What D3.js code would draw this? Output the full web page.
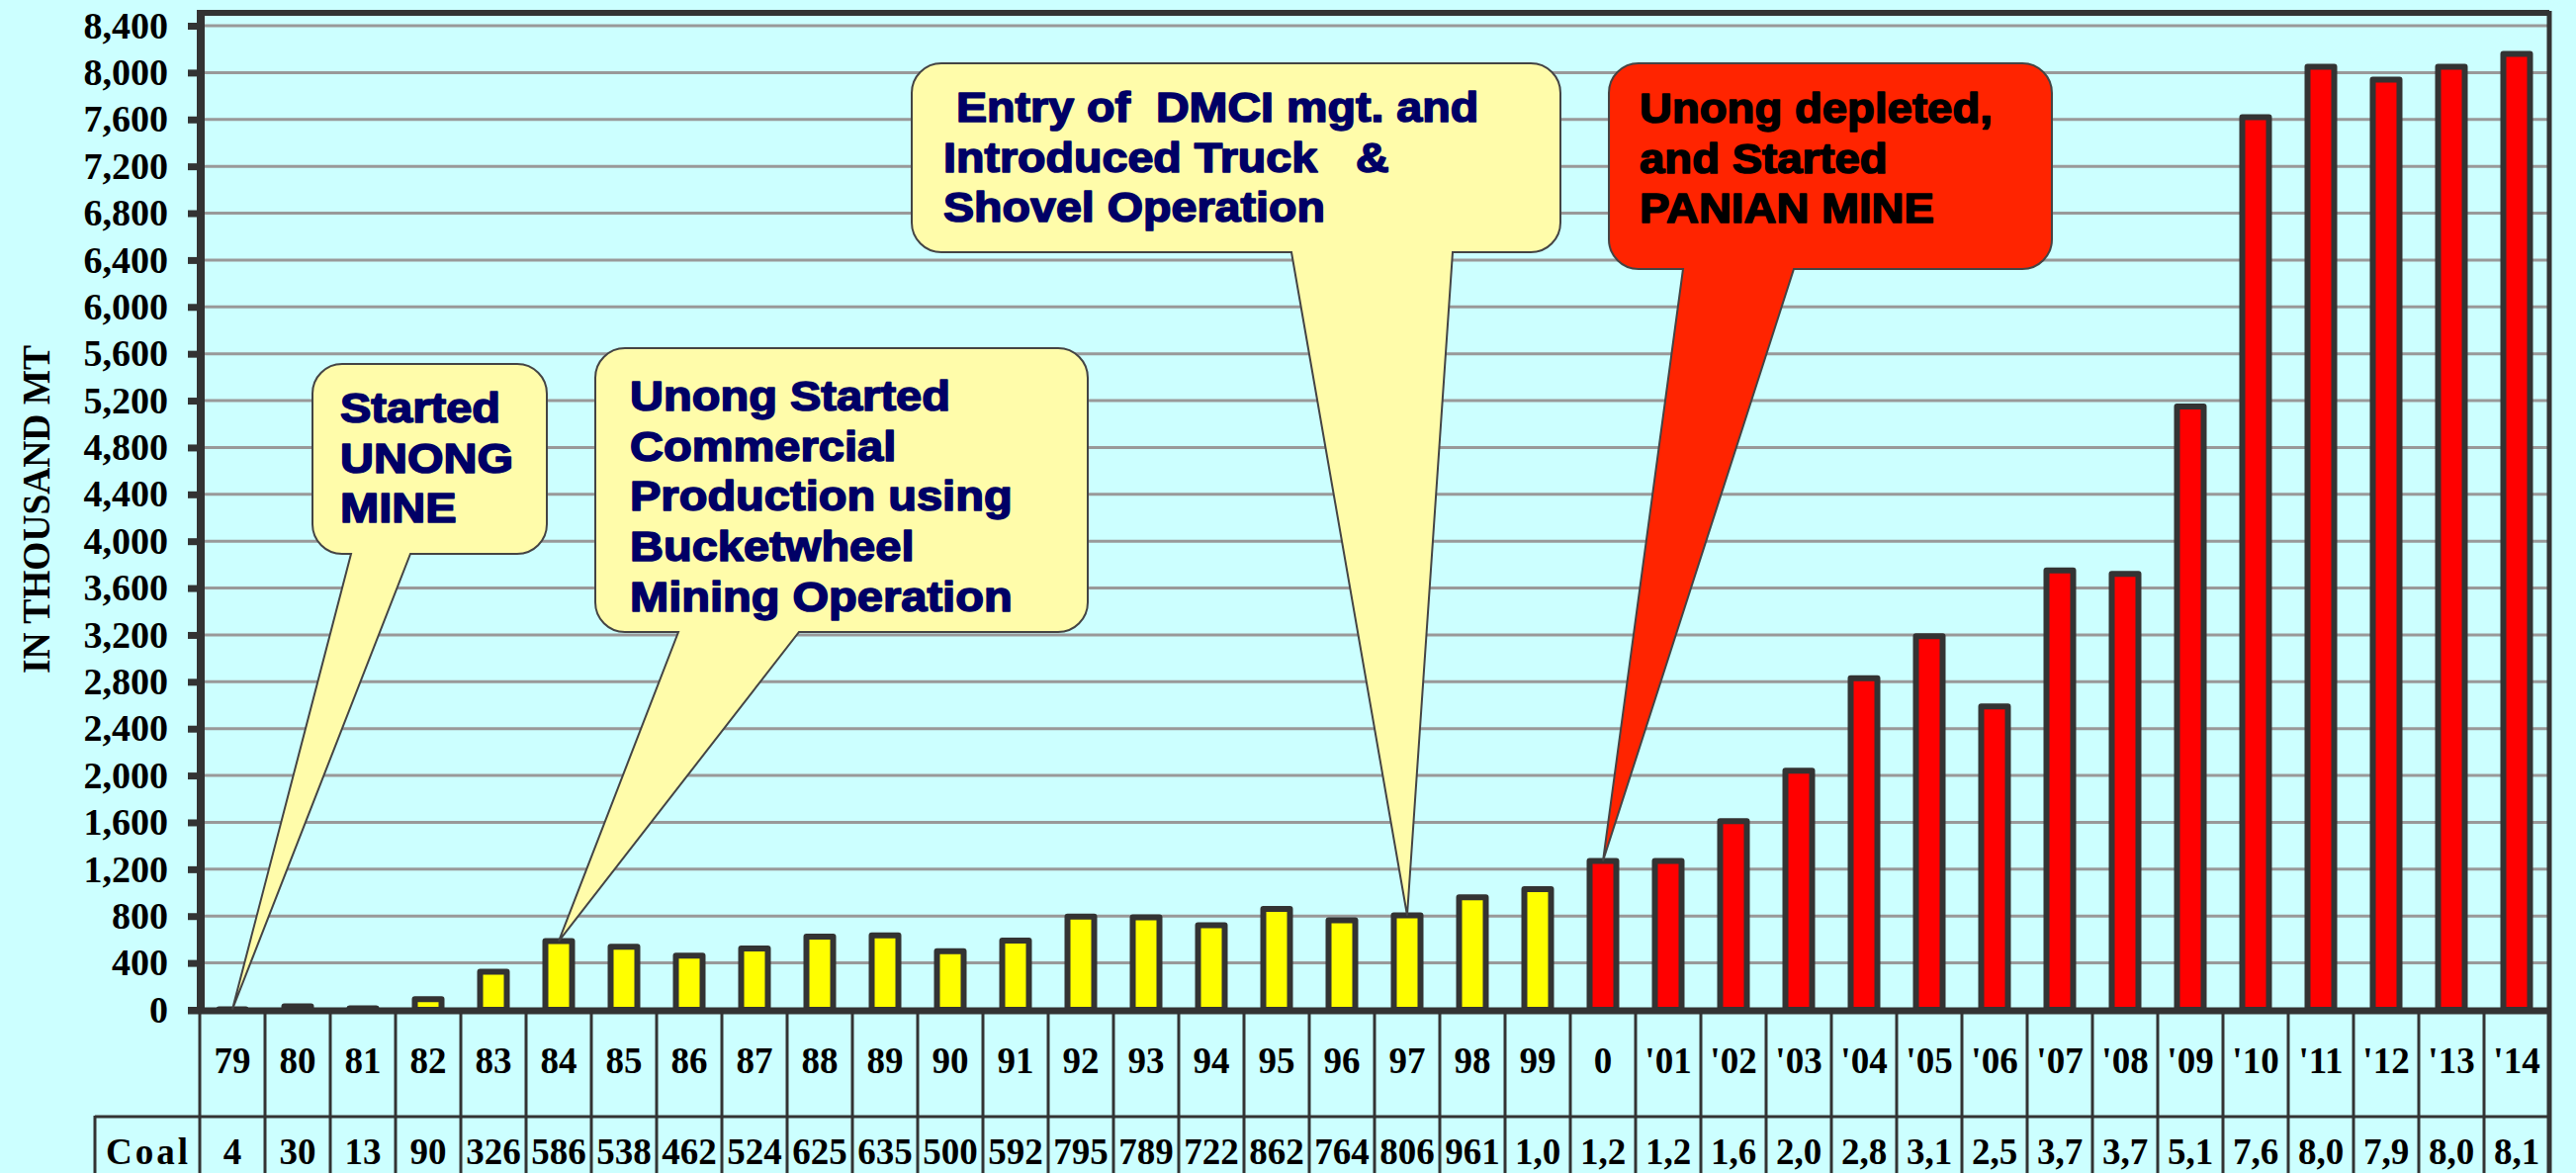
<!DOCTYPE html>
<html>
<head>
  <meta charset="utf-8">
  <style>
    body { margin: 0; background: #CCFFFF; }
    svg { display: block; background-color: #CCFFFF; }
  </style>
</head>
<body>
  <div id="chart"></div>
  <script src="https://d3js.org/d3.v7.min.js"></script>
  <script>

    // years shown in the data table under the chart
    var years = ["79", "80", "81", "82", "83", "84", "85", "86", "87", "88", "89", "90",
                 "91", "92", "93", "94", "95", "96", "97", "98", "99", "0",
                 "'01", "'02", "'03", "'04", "'05", "'06", "'07", "'08", "'09", "'10",
                 "'11", "'12", "'13", "'14"];

    // coal production, thousand MT (values above 999)
    var coal = [4, 30, 13, 90, 326, 586, 538, 462, 524, 625, 635, 500,
                592, 795, 789, 722, 862, 764, 806, 961, 1030, 1270,
                1270, 1610, 2040, 2830, 3190, 2590, 3750, 3720, 5150, 7620,
                8050, 7940, 8050, 8160];

    var yTicks = d3.range(0, 8401, 400);
    var panianFrom = 21;   // first year of Panian mine (red bars)

    // callouts: text lines + which bar the tail points to
    var noteText = [
      ["Started", "UNONG", "MINE"],
      ["Unong Started", "Commercial", "Production using", "Bucketwheel", "Mining Operation"],
      [" Entry of  DMCI mgt. and", "Introduced Truck   &", "Shovel Operation"],
      ["Unong depleted,", "and Started", "PANIAN MINE"]
    ];
    var noteBar = [0, 5, 18, 21];

    var W = 2605, H = 1186;
    var svg = d3.select("#chart").append("svg")
        .attr("width", W)
        .attr("height", H);

    var x = d3.scaleBand().domain(years).range([202, 2578]).padding(0);
    var y = d3.scaleLinear().domain([0, 8400]).range([1021, 26]);
    var barW = 27;
    var serif = "'Liberation Serif', 'Times New Roman', serif";
    var sans = "'Liberation Sans', Arial, sans-serif";

    // grid lines
    svg.append("g")
        .selectAll("line")
        .data(yTicks.filter(d => d > 0))
        .enter().append("line")
        .attr("x1", 207).attr("x2", 2576)
        .attr("y1", d => y(d)).attr("y2", d => y(d))
        .attr("stroke", "#999999")
        .attr("stroke-width", 3);

    // bars
    svg.append("g")
        .selectAll("rect")
        .data(coal)
        .enter().append("rect")
        .attr("x", (d, i) => x(years[i]) + (x.bandwidth() - barW) / 2)
        .attr("y", d => y(d))
        .attr("width", barW)
        .attr("height", d => y(0) - y(d))
        .attr("fill", (d, i) => i >= panianFrom ? "#FF0000" : "#FFFF00")
        .attr("stroke", "#333333")
        .attr("stroke-width", 6)
        .attr("stroke-linejoin", "round");

    // y axis
    var yAxis = d3.axisLeft(y)
        .tickValues(yTicks)
        .tickFormat(d3.format(","))
        .tickSize(13)
        .tickPadding(20);

    var ax = svg.append("g")
        .attr("transform", "translate(203,0)")
        .call(yAxis);
    ax.select(".domain").remove();
    ax.selectAll(".tick line").attr("stroke", "#333333").attr("stroke-width", 7);
    ax.selectAll(".tick text")
        .attr("fill", "#000")
        .style("font-family", serif)
        .style("font-weight", "bold")
        .style("font-size", "38px");

    svg.append("text")
        .attr("transform", "translate(50,515) rotate(-90)")
        .attr("text-anchor", "middle")
        .attr("textLength", 332)
        .attr("lengthAdjust", "spacingAndGlyphs")
        .style("font-family", serif)
        .style("font-weight", "bold")
        .style("font-size", "40px")
        .text("IN THOUSAND MT");

    // frame
    var frame = svg.append("g").attr("stroke", "#333333").attr("fill", "none");
    frame.append("line").attr("x1", 203).attr("x2", 2578).attr("y1", 13).attr("y2", 13).attr("stroke-width", 6);
    frame.append("line").attr("x1", 2578).attr("x2", 2578).attr("y1", 11).attr("y2", H).attr("stroke-width", 5);

    // data table
    var tbl = svg.append("g").attr("stroke", "#333333").attr("stroke-width", 3);
    tbl.selectAll("line.col")
        .data(d3.range(years.length))
        .enter().append("line")
        .attr("class", "col")
        .attr("x1", i => x(years[i])).attr("x2", i => x(years[i]))
        .attr("y1", 1022).attr("y2", H);
    tbl.append("line").attr("x1", 96).attr("x2", 2578).attr("y1", 1129).attr("y2", 1129);
    tbl.append("line").attr("x1", 96).attr("x2", 96).attr("y1", 1128).attr("y2", H);

    frame.append("line").attr("x1", 203).attr("x2", 203).attr("y1", 10).attr("y2", 1025).attr("stroke-width", 8);
    frame.append("line").attr("x1", 190).attr("x2", 2580).attr("y1", 1022).attr("y2", 1022).attr("stroke-width", 7);

    var tText = svg.append("g")
        .style("font-family", serif)
        .style("font-weight", "bold")
        .style("font-size", "37px")
        .attr("text-anchor", "middle");

    tText.selectAll("text.yr")
        .data(years)
        .enter().append("text")
        .attr("class", "yr")
        .attr("x", d => x(d) + x.bandwidth() / 2)
        .attr("y", 1085)
        .text(d => d);

    // table cells are too narrow for 4-digit values, only the first 3 chars show
    var cellText = d => d < 1000 ? String(d) : d3.format(",")(d).slice(0, 3);
    tText.selectAll("text.cv")
        .data(coal)
        .enter().append("text")
        .attr("class", "cv")
        .attr("x", (d, i) => x(years[i]) + x.bandwidth() / 2)
        .attr("y", 1177)
        .text(cellText);

    tText.append("text")
        .attr("x", 107).attr("y", 1177)
        .attr("text-anchor", "start")
        .style("letter-spacing", "3px")
        .text("Coal");

    // callout boxes (box corners + tail base are layout, tip comes from the bar)
    var noteBox = [
      {x0: 316, y0: 368, x1: 553, y1: 560, b0: 355, b1: 415, tx: 344, ty: 427, fill: "#FFFCAA", ink: "#000066", fs: 42, sx: 1.12},
      {x0: 602, y0: 352, x1: 1100, y1: 639, b0: 686, b1: 808, tx: 637, ty: 415, fill: "#FFFCAA", ink: "#000066", fs: 42, sx: 1.12},
      {x0: 922, y0: 64, x1: 1578, y1: 255, b0: 1306, b1: 1469, tx: 954, ty: 123, fill: "#FFFCAA", ink: "#000066", fs: 42, sx: 1.11},
      {x0: 1627, y0: 64, x1: 2075, y1: 272, b0: 1702, b1: 1814, tx: 1658, ty: 124, fill: "#FF2400", ink: "#000000", fs: 43, sx: 1.06}
    ];

    function calloutPath(b, tip) {
      var r = 30;
      var p = d3.path();
      p.moveTo(b.x0 + r, b.y0);
      p.lineTo(b.x1 - r, b.y0);
      p.arcTo(b.x1, b.y0, b.x1, b.y0 + r, r);
      p.lineTo(b.x1, b.y1 - r);
      p.arcTo(b.x1, b.y1, b.x1 - r, b.y1, r);
      p.lineTo(b.b1, b.y1);
      p.lineTo(tip[0], tip[1]);
      p.lineTo(b.b0, b.y1);
      p.lineTo(b.x0 + r, b.y1);
      p.arcTo(b.x0, b.y1, b.x0, b.y1 - r, r);
      p.lineTo(b.x0, b.y0 + r);
      p.arcTo(b.x0, b.y0, b.x0 + r, b.y0, r);
      p.closePath();
      return p.toString();
    }

    noteText.forEach(function (lines, k) {
      var b = noteBox[k];
      var i = noteBar[k];
      var tip = [x(years[i]) + x.bandwidth() / 2, y(coal[i])];
      var g = svg.append("g");
      g.append("path")
          .attr("d", calloutPath(b, tip))
          .attr("fill", b.fill)
          .attr("stroke", "#444444")
          .attr("stroke-width", 2);
      // a thin stroke in the ink colour gives the heavier look of the original
      var t = g.append("text")
          .attr("transform", "translate(" + b.tx + "," + b.ty + ") scale(" + b.sx + ",1)")
          .attr("fill", b.ink)
          .attr("stroke", b.ink)
          .attr("stroke-width", 1.6)
          .attr("stroke-linejoin", "round")
          .style("font-family", sans)
          .style("font-weight", "bold")
          .style("font-size", b.fs + "px")
          .style("white-space", "pre");
      t.selectAll("tspan")
          .data(lines)
          .enter().append("tspan")
          .attr("x", 0)
          .attr("y", (d, j) => j * 50.7)
          .text(d => d);
    });

  </script>
</body>
</html>
